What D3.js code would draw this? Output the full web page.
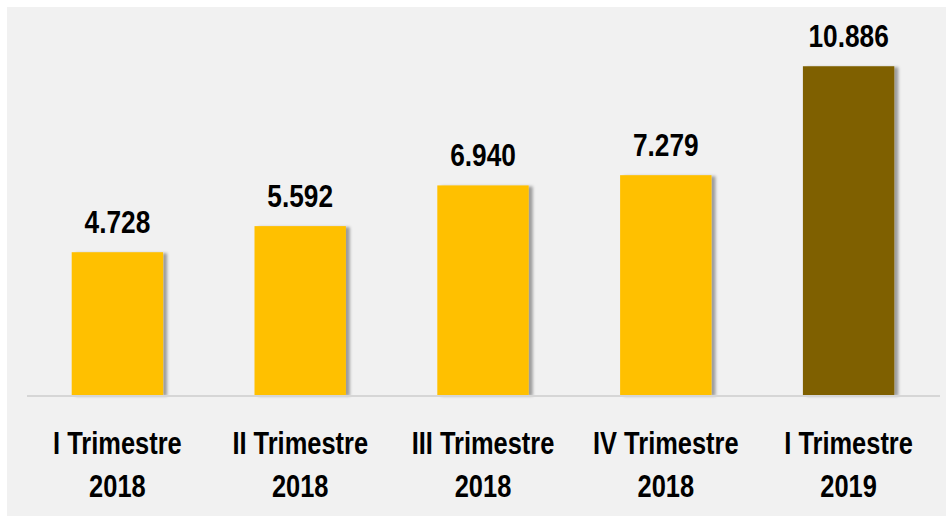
<!DOCTYPE html>
<html>
<head>
<meta charset="utf-8">
<script src="https://cdn.jsdelivr.net/npm/d3@7"></script>
<style>
  body { margin: 0; background: #fff; }
  svg { display: block; }
  text { font-family: "Liberation Sans", Arial, sans-serif; font-weight: bold; fill: #000; }
</style>
</head>
<body>
<script>
// data
var quarters = ["I Trimestre", "II Trimestre", "III Trimestre", "IV Trimestre", "I Trimestre"];
var years = ["2018", "2018", "2018", "2018", "2019"];
var values = [4.728, 5.592, 6.940, 7.279, 10.886];
var colors = ["#FFC000", "#FFC000", "#FFC000", "#FFC000", "#7F6000"];

var width = 946, height = 516;
var narrow = 0.82; // squeeze glyphs to look like a condensed face

var svg = d3.select("body").append("svg")
    .attr("width", width)
    .attr("height", height);

// shadow on the right of each bar
var defs = svg.append("defs");
var f = defs.append("filter").attr("id", "shadow")
    .attr("x", "-10%").attr("y", "-10%").attr("width", "130%").attr("height", "120%");
f.append("feDropShadow")
    .attr("dx", 4).attr("dy", 1).attr("stdDeviation", 1.6)
    .attr("flood-color", "#000").attr("flood-opacity", 0.35);

// plot background
svg.append("rect")
    .attr("x", 7).attr("y", 7)
    .attr("width", width - 7).attr("height", height - 7)
    .attr("fill", "#f1f1f1");

var idx = d3.range(values.length);

var x = d3.scaleBand()
    .domain(idx)
    .range([26, 940])
    .paddingInner(0.5)
    .paddingOuter(0.25);

var y = d3.scaleLinear()
    .domain([0, 12])
    .range([395, 395 - 30.2 * 12]);

// bars
svg.selectAll(".bar")
    .data(idx)
  .enter().append("rect")
    .attr("class", "bar")
    .attr("x", function(i) { return x(i); })
    .attr("y", function(i) { return y(values[i]); })
    .attr("width", x.bandwidth())
    .attr("height", function(i) { return y(0) - y(values[i]); })
    .attr("fill", function(i) { return colors[i]; })
    .attr("filter", "url(#shadow)");

// axis line
svg.append("line")
    .attr("x1", 27).attr("x2", 940)
    .attr("y1", y(0) + 1).attr("y2", y(0) + 1)
    .attr("stroke", "#d6d6d6")
    .attr("stroke-width", 2);

function squeeze(sel) {
  sel.each(function() {
    var len = this.getComputedTextLength();
    d3.select(this)
      .attr("textLength", len * narrow)
      .attr("lengthAdjust", "spacingAndGlyphs");
  });
}

// value labels
svg.selectAll(".val")
    .data(idx)
  .enter().append("text")
    .attr("class", "val")
    .attr("x", function(i) { return x(i) + x.bandwidth() / 2; })
    .attr("y", function(i) { return y(values[i]) - 19; })
    .attr("text-anchor", "middle")
    .style("font-size", "32px")
    .text(function(i) { return d3.format(".3f")(values[i]); })
    .call(squeeze);

// category labels, two lines each
svg.selectAll(".cat")
    .data(idx)
  .enter().append("text")
    .attr("class", "cat")
    .attr("x", function(i) { return x(i) + x.bandwidth() / 2; })
    .attr("y", 454)
    .attr("text-anchor", "middle")
    .style("font-size", "31px")
    .text(function(i) { return quarters[i]; })
    .call(squeeze);

svg.selectAll(".yr")
    .data(idx)
  .enter().append("text")
    .attr("class", "yr")
    .attr("x", function(i) { return x(i) + x.bandwidth() / 2; })
    .attr("y", 497)
    .attr("text-anchor", "middle")
    .style("font-size", "31px")
    .text(function(i) { return years[i]; })
    .call(squeeze);
</script>
</body>
</html>
